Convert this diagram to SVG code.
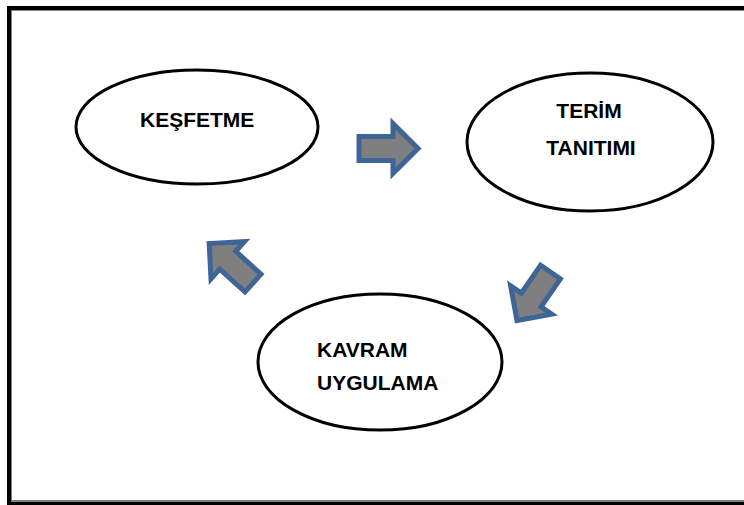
<svg xmlns="http://www.w3.org/2000/svg" width="744" height="505" viewBox="0 0 744 505">
  <style>
    .node { fill: #ffffff; stroke: #000000; stroke-width: 3; }
    .label { font-family: "Liberation Sans", Arial, sans-serif; font-weight: bold; font-size: 21px; fill: #000000; }
    .arrow { fill: #7f7f7f; stroke: #3f6496; stroke-width: 5; stroke-linejoin: miter; }
  </style>
  <defs>
    <!-- block arrow, tail at origin, pointing along +x -->
    <path id="blockArrow" d="M0,-12 H34 V-25 L59,0 L34,25 V12 H0 Z"/>
  </defs>

  <!-- page frame -->
  <rect x="9" y="8" width="800" height="495.5" fill="#ffffff" stroke="#000000" stroke-width="4"/>
  <rect x="11.5" y="10.5" width="800" height="490" fill="none" stroke="#808080" stroke-width="1"/>

  <g id="connectors">
    <use href="#blockArrow" class="arrow" transform="translate(359,148.5)"/>
    <use href="#blockArrow" class="arrow" transform="translate(550.5,272) rotate(124.6)"/>
    <use href="#blockArrow" class="arrow" transform="translate(253,283) rotate(222)"/>
  </g>

  <g id="kesfetme">
    <ellipse class="node" cx="197" cy="127" rx="121" ry="57"/>
    <text class="label" x="140" y="127">KEŞFETME</text>
  </g>

  <g id="terim-tanitimi">
    <ellipse class="node" cx="590" cy="142" rx="123" ry="69"/>
    <text class="label" x="589" y="118" text-anchor="middle">TERİM</text>
    <text class="label" x="591" y="155" text-anchor="middle">TANITIMI</text>
  </g>

  <g id="kavram-uygulama">
    <ellipse class="node" cx="380" cy="362" rx="122" ry="68"/>
    <text class="label" x="317" y="357">KAVRAM</text>
    <text class="label" x="317" y="390">UYGULAMA</text>
  </g>
</svg>
